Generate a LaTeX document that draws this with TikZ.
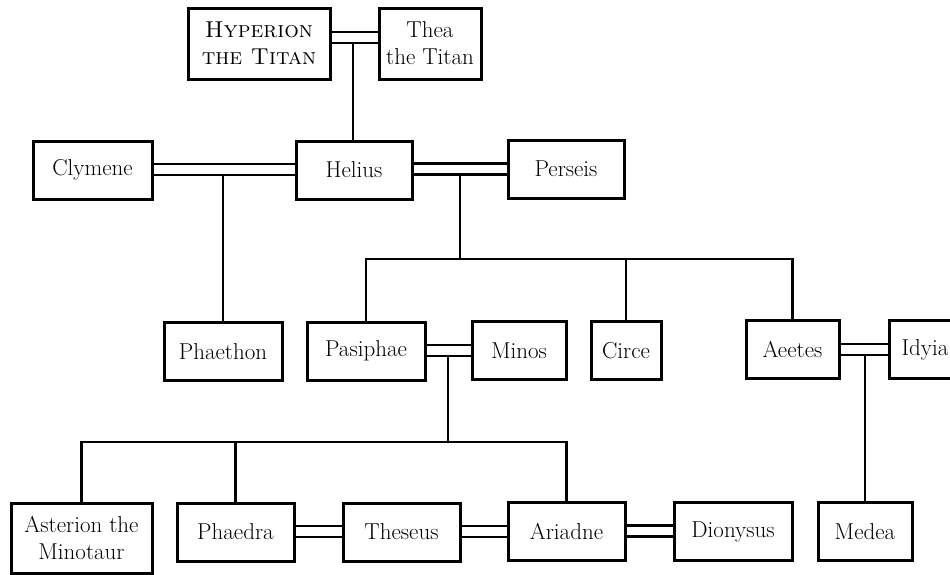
\documentclass[tikz,border=0pt]{standalone}
\usetikzlibrary{calc}
\begin{document}
\begin{tikzpicture}[x=1pt,y=-1pt,
  person/.style={draw, line width=3pt, inner sep=0pt, align=center,
    minimum height=58pt, font=\fontsize{23}{27}\selectfont},
  link/.style={line width=2.7pt}]
\clip (0,0) rectangle (950,574);

% the family members
\node[person, minimum width=142pt, minimum height=71pt] (hyp) at (259,43.5) {\textsc{Hyperion}\\\textsc{the Titan}};
\node[person, minimum width=102pt, minimum height=71pt] (thea) at (430,43.5) {Thea\\the Titan};
\node[person, minimum width=116pt] (helius) at (354,170) {Helius};
\node[person, minimum width=119pt] (clymene) at (92.5,170) {Clymene};
\node[person, minimum width=116pt] (perseis) at (566,169) {Perseis};
\node[person, minimum width=118pt] (phaethon) at (223,351.5) {Phaethon};
\node[person, minimum width=118pt] (pasiphae) at (366,351) {Pasiphae};
\node[person, minimum width=94pt]  (minos) at (519,350.5) {Minos};
\node[person, minimum width=70pt]  (circe) at (626,350.5) {Circe};
\node[person, minimum width=93pt]  (aeetes) at (792.5,349.5) {Aeetes};
\node[person, minimum width=72pt]  (idyia) at (925,349.5) {Idyia};
\node[person, minimum width=141pt, minimum height=70pt] (asterion) at (81.5,538) {Asterion the\\Minotaur};
\node[person, minimum width=117pt] (phaedra) at (235.5,532) {Phaedra};
\node[person, minimum width=117pt] (theseus) at (401.5,532) {Theseus};
\node[person, minimum width=117pt] (ariadne) at (566.5,531.5) {Ariadne};
\node[person, minimum width=118pt] (dionysus) at (733,531.5) {Dionysus};
\node[person, minimum width=94pt]  (medea) at (865,531.5) {Medea};

% marriages: a pair of parallel lines, the upper one at offset #3
\newcommand\marryline[3]{%
  \draw[link] ($(#1.east)+(0,#3)$) -- ($(#1.east -| #2.west)+(0,#3)$);
  \draw[link] ($(#1.east)+(0,#3+11)$) -- ($(#1.east -| #2.west)+(0,#3+11)$);}
\marryline{hyp}{thea}{-11.5}
\marryline{clymene}{helius}{-6}
\marryline{helius}{perseis}{-6.5}
\marryline{pasiphae}{minos}{-6}
\marryline{aeetes}{idyia}{-5.5}
\marryline{phaedra}{theseus}{-6}
\marryline{theseus}{ariadne}{-6}
\marryline{ariadne}{dionysus}{-6}

% descent points on the lower marriage lines
\coordinate (d1) at (353,43);
\coordinate (d2) at (223,176);
\coordinate (d3) at (460,176);
\coordinate (d4) at (448,356);
\coordinate (d5) at (865,355);
\coordinate (sib1) at (460,259);
\coordinate (sib2) at (448,442);

% children
\draw[link] (d1) -- (d1 |- helius.north);
\draw[link] (d2) -- (phaethon.north);
\draw[link] (d3) -- (sib1);
\draw[link] (pasiphae.north) |- (sib1) -| (aeetes.north);
\draw[link] (circe.north) -- (circe.north |- sib1);
\draw[link] (d4) -- (sib2);
\draw[link] (asterion.north) |- (sib2) -| (ariadne.north);
\draw[link] (phaedra.north) -- (phaedra.north |- sib2);
\draw[link] (d5) -- (medea.north);
\end{tikzpicture}
\end{document}
